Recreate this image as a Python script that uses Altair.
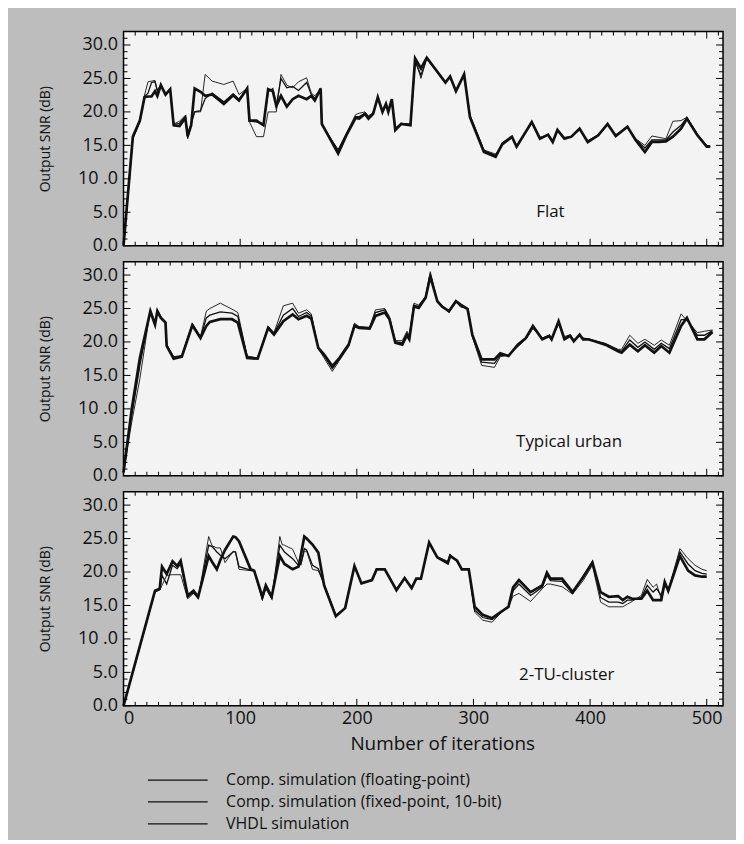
import altair as alt
import pandas as pd

SERIES = ["Comp. simulation (floating-point)",
          "Comp. simulation (fixed-point, 10-bit)",
          "VHDL simulation"]
LINE_WIDTHS = [0.9, 1.3, 2.7]
PANEL_NAMES = ["Flat", "Typical urban", "2-TU-cluster"]
X_TICK_LABELS = [0, 100, 200, 300, 400, 500]
Y_TICK_LABELS = [0, 5, 10, 15, 20, 25, 30]

# ---------------- Panel 1 : Flat ----------------
P1_X = [0, 8, 14, 18, 21, 24, 27, 29, 32, 36, 40, 43, 48, 53, 55, 58, 61, 66, 70, 76,
        86, 94, 99, 106, 108, 114, 120, 124, 128, 131, 135, 140, 145, 150, 157, 161, 164, 169, 170, 184,
        191, 199, 202, 207, 210, 214, 218, 222, 225, 227, 230, 233, 238, 246, 250, 255, 260, 276, 280, 285,
        292, 297, 309, 319, 325, 333, 337, 350, 357, 364, 368, 372, 378, 384, 391, 398, 407, 415, 422, 432,
        439, 447, 453, 459, 465, 471, 478, 483, 492, 500, 503]
P1_FLOAT = [0, 16.0, 18.5, 22.5, 24.5, 24.6, 24.7, 23.0, 23.8, 22.8, 23.2, 18.2, 18.6, 19.5, 16.8, 18.3, 20.0, 20.0, 25.6, 24.6,
            24.1, 24.6, 22.6, 23.5, 18.5, 16.3, 16.3, 20.0, 20.0, 20.0, 25.6, 24.0, 23.6, 24.5, 25.1, 22.8, 22.4, 23.4, 18.0, 14.4,
            16.8, 19.6, 19.8, 20.0, 19.4, 19.9, 22.0, 20.3, 21.0, 20.3, 21.6, 17.6, 18.3, 18.2, 28.0, 25.0, 28.0, 24.3, 25.2, 23.3,
            25.4, 19.6, 14.3, 13.7, 15.0, 16.1, 15.0, 18.3, 16.2, 16.5, 15.7, 17.1, 16.2, 16.3, 17.3, 15.7, 16.6, 18.0, 16.6, 17.6,
            16.0, 15.0, 16.4, 16.2, 16.0, 18.6, 18.7, 19.2, 16.7, 15.0, 14.9]
P1_FIXED = [0, 16.1, 18.6, 22.3, 22.8, 24.4, 24.5, 23.2, 24.0, 22.5, 23.3, 18.1, 18.3, 19.3, 16.0, 18.2, 20.0, 20.2, 22.0, 22.8,
            21.5, 22.7, 21.9, 23.4, 18.6, 18.5, 18.2, 23.0, 23.5, 21.0, 25.0, 23.6, 23.8, 23.2, 24.4, 22.6, 22.0, 23.4, 18.1, 14.2,
            16.6, 19.3, 19.3, 19.8, 19.2, 19.8, 22.1, 20.1, 21.1, 20.1, 21.8, 17.4, 18.2, 18.1, 27.5, 25.5, 28.0, 24.4, 25.2, 23.2,
            25.5, 19.4, 14.2, 13.5, 15.2, 16.2, 14.9, 18.4, 16.1, 16.6, 15.6, 17.2, 16.1, 16.3, 17.4, 15.6, 16.5, 18.1, 16.5, 17.7,
            15.9, 14.6, 15.8, 15.8, 15.8, 17.0, 18.0, 19.1, 16.6, 14.9, 14.8]
P1_VHDL = [0, 16.3, 18.7, 22.2, 22.3, 22.3, 23.1, 22.4, 24.0, 22.6, 23.4, 18.0, 17.9, 19.1, 16.4, 18.0, 23.5, 23.0, 22.4, 22.6,
           21.2, 22.5, 21.7, 23.5, 18.7, 18.7, 18.0, 23.4, 23.1, 20.9, 22.4, 20.8, 21.9, 22.4, 21.9, 22.4, 21.7, 23.5, 18.2, 13.8,
           16.5, 19.1, 19.0, 19.7, 19.0, 19.7, 22.2, 20.0, 21.2, 20.0, 21.9, 17.3, 18.2, 18.0, 28.0, 26.5, 28.1, 24.4, 25.3, 23.1,
           25.6, 19.2, 14.0, 13.3, 15.3, 16.3, 14.8, 18.5, 16.0, 16.6, 15.5, 17.3, 16.0, 16.3, 17.5, 15.5, 16.5, 18.2, 16.4, 17.8,
           15.8, 14.0, 15.5, 15.5, 15.6, 16.3, 17.5, 19.0, 16.5, 14.8, 14.8]

# ---------------- Panel 2 : Typical urban ----------------
P2_X = [0, 7, 14, 23, 27, 29, 32, 36, 37, 43, 50, 59, 66, 71, 74, 83, 93, 98, 106, 115,
        124, 129, 137, 145, 150, 157, 161, 167, 172, 179, 185, 193, 198, 202, 211, 216, 224, 228, 233, 239,
        243, 245, 249, 253, 259, 263, 269, 273, 279, 285, 289, 295, 299, 307, 318, 323, 330, 338, 345, 351,
        359, 365, 367, 373, 378, 383, 386, 391, 394, 398, 404, 413, 424, 427, 434, 441, 447, 455, 461, 468,
        478, 483, 492, 498, 505]
P2_FLOAT = [0.5, 8.0, 14.5, 24.8, 22.8, 24.8, 23.8, 23.0, 19.6, 17.8, 18.0, 22.8, 20.8, 24.6, 25.0, 25.8, 24.9, 24.4, 17.9, 17.6,
            22.3, 21.4, 25.4, 25.8, 24.3, 24.8, 24.2, 19.0, 17.6, 15.6, 17.2, 19.3, 22.8, 22.3, 22.2, 24.8, 25.0, 23.8, 20.2, 20.2,
            21.6, 21.0, 25.8, 25.5, 26.8, 30.5, 26.0, 25.5, 24.4, 26.0, 25.2, 25.0, 20.8, 16.5, 16.2, 17.8, 18.0, 19.3, 20.4, 22.0,
            20.6, 21.0, 20.6, 22.6, 20.8, 21.1, 20.3, 21.0, 20.6, 20.5, 20.2, 19.8, 18.9, 18.9, 21.0, 19.8, 20.4, 19.5, 20.3, 19.5,
            24.2, 23.2, 21.4, 21.6, 21.8]
P2_FIXED = [0.5, 9.0, 16.5, 24.7, 22.7, 24.7, 23.7, 23.0, 19.5, 17.7, 17.9, 22.6, 20.7, 23.6, 24.0, 24.5, 24.3, 23.8, 17.8, 17.6,
            22.2, 21.3, 24.0, 25.0, 23.8, 24.4, 23.9, 19.0, 17.9, 16.0, 17.4, 19.5, 22.6, 22.2, 22.1, 24.4, 24.8, 23.6, 20.0, 19.9,
            21.3, 20.7, 25.5, 25.3, 26.7, 30.2, 26.0, 25.4, 24.5, 26.0, 25.4, 25.0, 21.0, 17.0, 16.8, 18.0, 18.0, 19.4, 20.5, 22.2,
            20.5, 21.0, 20.5, 22.8, 20.6, 21.0, 20.2, 21.0, 20.5, 20.5, 20.1, 19.7, 18.8, 18.6, 20.3, 19.2, 20.0, 18.9, 19.8, 19.0,
            23.3, 23.4, 21.0, 21.0, 21.7]
P2_VHDL = [0.5, 9.9, 17.6, 24.6, 22.6, 24.6, 23.6, 22.9, 19.4, 17.5, 17.8, 22.5, 20.6, 22.4, 23.0, 23.4, 23.4, 22.9, 17.6, 17.5,
           22.1, 21.1, 23.1, 24.1, 23.4, 23.9, 23.5, 19.1, 18.1, 16.4, 17.6, 19.6, 22.4, 22.1, 22.0, 23.9, 24.4, 23.4, 19.9, 19.6,
           21.0, 20.4, 25.3, 25.1, 26.6, 29.8, 26.1, 25.3, 24.6, 26.1, 25.6, 24.9, 21.1, 17.4, 17.4, 18.3, 17.9, 19.6, 20.6, 22.4,
           20.4, 20.9, 20.4, 23.1, 20.4, 20.9, 20.1, 21.1, 20.4, 20.4, 20.1, 19.6, 18.6, 18.4, 19.6, 18.6, 19.5, 18.4, 19.4, 18.4,
           22.4, 23.6, 20.4, 20.4, 21.5]

# ---------------- Panel 3 : 2-TU-cluster ----------------
P3_X = [0, 27, 31, 33, 37, 42, 46, 49, 55, 60, 64, 73, 76, 80, 83, 87, 94, 96, 99, 109,
        112, 119, 122, 127, 134, 136, 138, 145, 150, 152, 155, 157, 162, 167, 172, 182, 190, 198, 204, 213,
        217, 224, 234, 241, 247, 251, 255, 262, 269, 278, 280, 286, 290, 296, 301, 308, 316, 324, 330, 334,
        339, 349, 359, 363, 366, 376, 385, 394, 402, 409, 416, 424, 428, 432, 436, 444, 449, 454, 457, 461,
        464, 467, 477, 484, 490, 496, 500]
P3_FLOAT = [0, 17.0, 17.3, 18.0, 19.5, 19.6, 19.6, 19.6, 16.0, 16.8, 16.0, 25.3, 23.9, 23.6, 23.6, 21.4, 23.1, 23.0, 20.4, 20.2,
            20.2, 15.8, 17.5, 16.0, 25.3, 24.1, 24.0, 23.4, 21.4, 21.0, 23.1, 23.1, 20.4, 20.2, 18.2, 13.6, 14.6, 20.8, 18.4, 18.8,
            20.4, 20.4, 17.3, 19.0, 17.6, 19.0, 19.0, 24.4, 22.3, 21.6, 22.6, 21.5, 20.4, 20.4, 14.0, 12.8, 12.5, 14.0, 14.8, 16.4,
            16.8, 15.6, 17.5, 18.2, 18.2, 17.8, 16.7, 18.7, 21.0, 15.5, 14.8, 14.8, 14.8, 15.2, 15.6, 16.5, 18.9, 17.7, 18.2, 16.0,
            18.0, 17.2, 23.5, 22.0, 21.0, 20.4, 20.2]
P3_FIXED = [0, 17.1, 17.4, 19.5, 18.2, 21.0, 20.5, 21.2, 16.2, 17.0, 16.1, 24.0, 23.8, 23.0, 22.5, 22.0, 23.0, 23.0, 20.8, 20.3,
            20.2, 16.0, 17.7, 16.1, 24.0, 23.5, 23.0, 22.0, 21.0, 21.2, 23.5, 23.3, 21.0, 20.5, 18.1, 13.5, 14.6, 20.9, 18.3, 18.8,
            20.4, 20.4, 17.3, 19.1, 17.6, 19.0, 19.0, 24.4, 22.2, 21.5, 22.6, 21.6, 20.4, 20.4, 14.3, 13.2, 12.9, 14.0, 14.8, 17.2,
            18.2, 16.5, 17.7, 19.5, 18.7, 18.6, 16.8, 19.4, 21.6, 16.2, 15.5, 15.5, 15.3, 15.8, 15.8, 16.2, 18.0, 17.0, 17.5, 16.5,
            18.3, 17.2, 23.0, 21.2, 20.2, 19.8, 19.7]
P3_VHDL = [0, 17.2, 17.5, 20.8, 19.7, 21.6, 20.9, 21.7, 16.5, 17.2, 16.3, 22.4, 21.5, 20.4, 21.8, 23.3, 25.3, 25.2, 24.6, 20.4,
           20.2, 16.3, 18.0, 16.3, 22.4, 21.8, 21.2, 20.4, 20.8, 22.5, 25.3, 25.0, 24.1, 22.9, 18.0, 13.4, 14.6, 20.9, 18.3, 18.8,
           20.4, 20.4, 17.3, 19.1, 17.6, 19.0, 19.0, 24.4, 22.2, 21.3, 22.4, 21.7, 20.4, 20.4, 14.8, 13.6, 13.1, 14.1, 14.8, 17.7,
           18.8, 17.0, 18.0, 19.9, 19.0, 19.0, 17.0, 19.2, 21.4, 17.0, 16.3, 16.4, 15.8, 16.3, 16.0, 16.0, 17.2, 15.8, 15.8, 15.8,
           18.5, 17.2, 22.4, 20.2, 19.5, 19.3, 19.3]

# panel label anchor (in data units)
LABEL_ITER = [366, 382, 380]
LABEL_SNR = [5.1, 5.0, 4.6]

FONT = "Open Sans"
W, H = 602, 215
XS = alt.Scale(domain=[0, 514], nice=False, zero=False)
YS = alt.Scale(domain=[0, 32], nice=False)

X_MAJOR = X_TICK_LABELS
X_MINOR = [v for v in range(10, 511, 10) if v % 100 != 0]
Y_MAJOR = Y_TICK_LABELS
Y_MINOR = [v for v in range(1, 32) if v % 5 != 0]


def make_df(xs, ys_list):
    rows = []
    for name, ys in zip(SERIES, ys_list):
        assert len(xs) == len(ys), (name, len(xs), len(ys))
        for x, y in zip(xs, ys):
            rows.append({"iter": x, "snr": y, "series": name})
    return pd.DataFrame(rows)


def axes_for(bottom):
    if bottom:
        xaxis = alt.Axis(values=X_TICK_LABELS, format="d", ticks=False, tickSize=0, domain=False,
                         grid=False, labelFontSize=18, labelPadding=4, labelFont=FONT,
                         title="Number of iterations", titleFontSize=19, titleFont=FONT,
                         titleFontWeight="normal", titlePadding=7, titleX=320)
    else:
        xaxis = None
    yaxis = alt.Axis(values=Y_TICK_LABELS, ticks=False, tickSize=0, domain=False, grid=False,
                     labelExpr="datum.value == 10 ? '10 .0' : format(datum.value, '.1f')",
                     labelFontSize=18, labelPadding=6, labelFont=FONT,
                     title="Output SNR (dB)", titleFontSize=14, titleFont=FONT,
                     titleFontWeight="normal", titlePadding=25)
    return xaxis, yaxis


def xenc(field, xaxis):
    if xaxis is None:
        return alt.X(field, scale=XS, axis=None)
    return alt.X(field, scale=XS, axis=xaxis)


def tick_layers(xaxis, yaxis):
    layers = []
    for vals, L in [(X_MAJOR, 7), (X_MINOR, 4)]:
        base = alt.Chart(pd.DataFrame({"iter": vals})).mark_rule(color="black", strokeWidth=1)
        xe = xenc("iter:Q", xaxis)
        layers.append(base.encode(x=xe, y=alt.value(H), y2=alt.value(H - L)))
        layers.append(base.encode(x=xe, y=alt.value(0), y2=alt.value(L)))
    for vals, L in [(Y_MAJOR, 7), (Y_MINOR, 4)]:
        base = alt.Chart(pd.DataFrame({"snr": vals})).mark_rule(color="black", strokeWidth=1)
        ye = alt.Y("snr:Q", scale=YS, axis=yaxis)
        layers.append(base.encode(y=ye, x=alt.value(0), x2=alt.value(L)))
        layers.append(base.encode(y=ye, x=alt.value(W), x2=alt.value(W - L)))
    return layers


LEGEND = alt.Legend(title=None, orient="none", legendX=46, legendY=743,
                    symbolType="M-4,0H4", symbolSize=225,
                    symbolStrokeWidth=1.2, symbolStrokeColor="#111111",
                    labelFont=FONT, labelFontSize=16, labelColor="#111111",
                    labelOffset=40, rowPadding=5, labelLimit=400)
COLOR_SCALE = alt.Scale(domain=SERIES, range=["#111111", "#111111", "#111111"])


def panel(df, idx, bottom):
    xaxis, yaxis = axes_for(bottom)
    line_layers = []
    for name, sw in zip(SERIES, LINE_WIDTHS):
        line_layers.append(
            alt.Chart(df).transform_filter(alt.datum.series == name)
            .mark_line(interpolate="linear", strokeWidth=sw, strokeJoin="miter")
            .encode(
                x=xenc("iter:Q", xaxis),
                y=alt.Y("snr:Q", scale=YS, axis=yaxis),
                color=alt.Color("series:N", scale=COLOR_SCALE, legend=LEGEND),
                order=alt.Order("iter:Q"),
            )
        )
    lab = alt.Chart(pd.DataFrame({"iter": [LABEL_ITER[idx]], "snr": [LABEL_SNR[idx]],
                                  "label": [PANEL_NAMES[idx]]})).mark_text(
        font=FONT, fontSize=17, color="#111111", align="center", baseline="middle").encode(
        x=xenc("iter:Q", xaxis),
        y=alt.Y("snr:Q", scale=YS, axis=yaxis),
        text="label:N")
    return alt.layer(*line_layers, lab, *tick_layers(xaxis, yaxis)).properties(width=W, height=H)


d1 = make_df(P1_X, [P1_FLOAT, P1_FIXED, P1_VHDL])
d2 = make_df(P2_X, [P2_FLOAT, P2_FIXED, P2_VHDL])
d3 = make_df(P3_X, [P3_FLOAT, P3_FIXED, P3_VHDL])

chart = alt.vconcat(panel(d1, 0, False), panel(d2, 1, False), panel(d3, 2, True),
                    spacing=16, bounds="flush").resolve_scale(
    color="shared").resolve_legend(color="shared").properties(
    padding={"left": 29, "top": 20, "right": 11, "bottom": 6},
    background="#bdbdbd",
).configure_view(stroke="#000000", strokeWidth=1.5, fill="#f3f3f3").configure_axis(
    labelColor="#111111", titleColor="#111111")

chart.save("out.html", embed_options={"renderer": "svg", "actions": False})
